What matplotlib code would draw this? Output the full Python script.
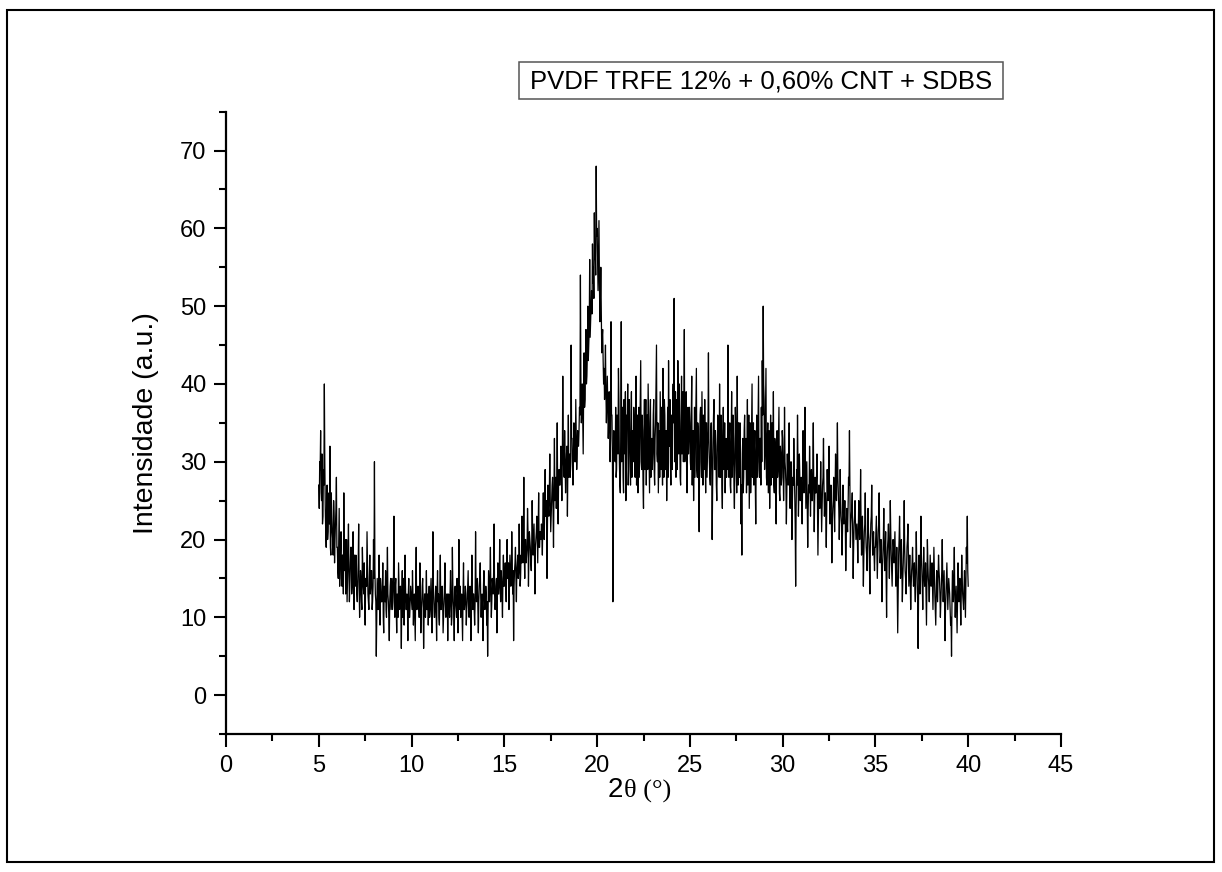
import numpy as np
import matplotlib
matplotlib.use("Agg")
import matplotlib.pyplot as plt
from matplotlib.ticker import MultipleLocator
from matplotlib.patches import Rectangle

# XRD scan: 2-theta from 5.000 to 40.000 deg in 0.025 deg steps
two_theta_start = 5.0
two_theta_step = 0.025

intensity = [
    # 5.0
    27, 24, 30, 29, 34, 26, 25, 31, 22, 23, 29, 27, 40, 30, 24, 21, 19, 25, 27, 20,
    21, 24, 26, 22, 32, 19, 18, 26, 23, 21, 20, 18, 25, 23, 17, 20, 22, 24, 28, 19,
    # 6.0
    19, 16, 15, 20, 24, 14, 17, 19, 21, 15, 14, 18, 18, 13, 26, 17, 16, 20, 13, 15,
    20, 12, 15, 18, 22, 16, 12, 14, 17, 19, 19, 13, 14, 17, 21, 15, 11, 18, 16, 14,
    # 7.0
    18, 15, 13, 12, 15, 17, 22, 14, 10, 13, 16, 15, 12, 11, 19, 16, 14, 13, 17, 12,
    9, 15, 15, 14, 21, 17, 13, 12, 11, 15, 18, 13, 14, 16, 16, 11, 12, 14, 20, 15,
    # 8.0
    30, 16, 13, 12, 5, 10, 15, 13, 11, 14, 18, 11, 9, 15, 14, 12, 12, 13, 17, 10,
    8, 14, 13, 12, 16, 11, 10, 15, 19, 13, 12, 10, 7, 12, 14, 15, 11, 13, 15, 11,
    # 9.0
    13, 15, 23, 12, 10, 14, 15, 11, 8, 13, 12, 10, 17, 14, 11, 12, 14, 11, 6, 13,
    16, 10, 12, 15, 9, 12, 18, 14, 11, 11, 13, 12, 7, 13, 15, 10, 10, 12, 14, 13,
    # 10.0
    12, 11, 16, 13, 9, 12, 13, 10, 7, 14, 19, 11, 11, 13, 14, 12, 10, 10, 17, 13,
    8, 11, 12, 14, 15, 12, 6, 10, 13, 13, 10, 12, 16, 11, 11, 13, 9, 12, 14, 10,
    # 11.0
    11, 13, 15, 11, 8, 12, 21, 14, 12, 10, 10, 12, 14, 11, 7, 13, 16, 12, 13, 10,
    9, 14, 18, 11, 11, 13, 14, 12, 8, 10, 12, 14, 17, 12, 10, 11, 13, 13, 7, 12,
    # 12.0
    13, 11, 10, 13, 16, 12, 9, 10, 19, 14, 12, 11, 7, 13, 14, 12, 11, 10, 15, 13,
    8, 12, 20, 11, 12, 14, 10, 12, 13, 10, 7, 13, 17, 11, 11, 12, 14, 13, 9, 11,
    # 13.0
    12, 14, 16, 12, 10, 13, 14, 11, 7, 12, 18, 14, 11, 13, 13, 11, 9, 12, 21, 14,
    12, 13, 15, 11, 8, 12, 14, 15, 17, 13, 10, 12, 13, 11, 7, 14, 16, 13, 11, 12,
    # 14.0
    14, 13, 9, 12, 5, 11, 16, 14, 12, 15, 19, 13, 10, 12, 15, 14, 13, 16, 22, 13,
    11, 12, 14, 15, 8, 14, 17, 13, 13, 15, 20, 14, 12, 16, 15, 13, 10, 15, 18, 14,
    # 15.0
    14, 15, 17, 14, 12, 16, 20, 15, 15, 17, 11, 14, 18, 16, 14, 15, 21, 17, 13, 16,
    7, 14, 16, 17, 19, 15, 12, 16, 17, 18, 15, 16, 22, 17, 14, 15, 18, 17, 23, 18,
    # 16.0
    17, 19, 28, 18, 15, 20, 20, 17, 18, 19, 24, 21, 14, 18, 21, 20, 19, 17, 16, 19,
    25, 21, 18, 20, 22, 18, 13, 19, 20, 21, 23, 20, 17, 22, 26, 19, 19, 21, 21, 20,
    # 17.0
    22, 21, 18, 23, 26, 22, 20, 24, 29, 23, 24, 25, 15, 22, 27, 24, 23, 26, 31, 25,
    21, 23, 25, 27, 28, 24, 19, 26, 33, 25, 26, 28, 24, 27, 35, 26, 22, 28, 29, 27,
    # 18.0
    27, 29, 32, 28, 25, 30, 41, 31, 29, 28, 34, 30, 26, 29, 31, 32, 23, 30, 36, 28,
    30, 31, 28, 30, 45, 33, 33, 29, 27, 31, 35, 32, 30, 30, 38, 33, 29, 31, 34, 32,
    # 19.0
    32, 34, 37, 36, 54, 41, 35, 37, 40, 35, 31, 39, 44, 37, 38, 42, 47, 40, 41, 44,
    50, 43, 45, 47, 56, 46, 48, 50, 52, 49, 58, 53, 55, 51, 62, 56, 57, 54, 68, 59,
    # 20.0
    60, 56, 52, 57, 61, 53, 48, 51, 55, 50, 44, 46, 47, 43, 40, 42, 38, 41, 45, 39,
    35, 38, 41, 37, 33, 35, 39, 34, 30, 33, 48, 36, 36, 31, 12, 29, 34, 33, 31, 30,
    # 21.0
    37, 28, 29, 36, 35, 31, 42, 38, 30, 27, 26, 34, 48, 30, 33, 37, 28, 26, 38, 33,
    31, 39, 25, 29, 36, 35, 40, 27, 29, 38, 34, 31, 27, 36, 39, 28, 32, 34, 30, 37,
    # 22.0
    35, 30, 28, 37, 41, 27, 31, 36, 26, 33, 37, 28, 33, 39, 43, 30, 29, 36, 34, 27,
    24, 34, 38, 29, 32, 38, 27, 33, 36, 29, 40, 35, 30, 26, 35, 38, 28, 32, 33, 29,
    # 23.0
    31, 36, 38, 29, 27, 33, 35, 40, 45, 31, 30, 35, 26, 30, 34, 28, 39, 34, 29, 37,
    33, 27, 42, 32, 28, 38, 36, 29, 31, 34, 25, 31, 37, 28, 43, 35, 32, 38, 30, 27,
    # 24.0
    36, 32, 29, 38, 40, 35, 51, 30, 33, 39, 28, 34, 38, 29, 43, 36, 31, 40, 35, 28,
    27, 35, 41, 31, 34, 39, 30, 36, 47, 30, 32, 38, 39, 28, 26, 35, 37, 31, 33, 37,
    # 25.0
    35, 30, 29, 36, 41, 27, 31, 34, 25, 31, 37, 28, 33, 38, 42, 29, 28, 35, 34, 26,
    21, 32, 36, 37, 30, 28, 39, 33, 27, 36, 33, 29, 38, 31, 26, 35, 35, 28, 31, 34,
    # 26.0
    44, 33, 30, 28, 27, 34, 35, 30, 20, 26, 33, 36, 38, 29, 29, 34, 32, 27, 25, 31,
    36, 35, 31, 28, 40, 30, 28, 36, 34, 27, 24, 33, 37, 29, 30, 35, 26, 31, 33, 28,
    # 27.0
    32, 29, 45, 35, 28, 33, 35, 27, 26, 32, 39, 28, 30, 36, 33, 27, 24, 31, 37, 34,
    29, 26, 41, 32, 27, 35, 31, 28, 35, 30, 22, 27, 18, 31, 33, 26, 28, 34, 36, 29,
    # 28.0
    30, 33, 26, 31, 38, 27, 33, 36, 24, 30, 35, 26, 29, 34, 40, 28, 31, 35, 27, 32,
    34, 27, 22, 31, 36, 28, 30, 35, 41, 29, 28, 33, 33, 27, 37, 30, 43, 36, 50, 40,
    # 29.0
    38, 29, 31, 36, 42, 28, 27, 33, 35, 26, 30, 34, 24, 31, 36, 27, 33, 35, 28, 30,
    39, 27, 26, 33, 32, 24, 22, 31, 34, 28, 29, 33, 37, 26, 25, 32, 31, 27, 28, 34,
    # 30.0
    33, 29, 25, 28, 37, 30, 29, 27, 22, 26, 31, 28, 27, 29, 35, 27, 24, 28, 30, 26,
    20, 25, 28, 27, 33, 29, 26, 22, 14, 24, 29, 27, 36, 29, 23, 26, 31, 28, 25, 27,
    # 31.0
    28, 26, 22, 27, 34, 28, 26, 29, 37, 30, 24, 27, 30, 25, 19, 24, 27, 26, 32, 28,
    23, 27, 29, 25, 25, 29, 35, 27, 21, 25, 28, 26, 26, 28, 31, 24, 18, 23, 27, 26,
    # 32.0
    24, 26, 30, 25, 21, 24, 27, 28, 33, 27, 23, 25, 26, 23, 19, 24, 29, 26, 25, 27,
    32, 26, 22, 24, 27, 23, 17, 22, 24, 25, 28, 24, 21, 26, 31, 27, 25, 29, 35, 28,
    # 33.0
    26, 24, 20, 23, 29, 25, 23, 22, 18, 21, 27, 24, 22, 23, 25, 22, 16, 20, 24, 22,
    21, 24, 28, 27, 34, 26, 19, 22, 23, 24, 26, 21, 15, 19, 22, 23, 25, 22, 20, 21,
    # 34.0
    22, 20, 17, 21, 25, 22, 20, 23, 29, 22, 18, 20, 23, 19, 14, 18, 21, 22, 26, 21,
    19, 18, 16, 20, 24, 21, 20, 17, 13, 19, 22, 23, 27, 21, 18, 20, 21, 18, 16, 19,
    # 35.0
    19, 21, 23, 19, 15, 18, 21, 22, 26, 20, 17, 18, 20, 17, 12, 16, 18, 20, 24, 19,
    16, 18, 21, 15, 10, 17, 19, 20, 22, 18, 15, 19, 25, 21, 18, 16, 14, 18, 20, 19,
    # 36.0
    17, 19, 21, 17, 14, 16, 19, 14, 8, 13, 18, 20, 23, 19, 15, 17, 20, 16, 12, 15,
    17, 20, 25, 19, 16, 15, 13, 16, 19, 20, 22, 18, 14, 16, 18, 15, 11, 14, 16, 17,
    # 37.0
    19, 16, 14, 15, 17, 14, 12, 16, 21, 17, 15, 12, 6, 13, 18, 15, 13, 17, 23, 18,
    16, 14, 11, 15, 19, 16, 14, 15, 17, 13, 9, 14, 20, 17, 15, 14, 12, 15, 18, 16,
    # 38.0
    14, 15, 17, 14, 11, 15, 19, 16, 13, 11, 9, 13, 16, 14, 12, 15, 18, 16, 15, 13,
    10, 12, 14, 16, 20, 15, 12, 14, 16, 12, 7, 11, 13, 15, 17, 14, 11, 13, 15, 14,
    # 39.0
    13, 11, 9, 10, 5, 12, 16, 14, 12, 15, 19, 13, 10, 12, 14, 11, 8, 13, 17, 15,
    12, 14, 15, 12, 9, 13, 18, 15, 13, 12, 11, 14, 16, 13, 10, 15, 19, 17, 23, 16,
    # 40.0
    14,
]

x_ticks = [0, 5, 10, 15, 20, 25, 30, 35, 40, 45]
y_ticks = [0, 10, 20, 30, 40, 50, 60, 70]
sample_label = "PVDF TRFE 12% + 0,60% CNT + SDBS"

two_theta = two_theta_start + two_theta_step * np.arange(len(intensity))

W, H = 1222, 872
fig = plt.figure(figsize=(W / 100, H / 100), dpi=100)
plt.rcParams["font.family"] = ["Liberation Sans", "DejaVu Sans"]

def fx(px):
    return px / W

def fy(py):
    return 1 - py / H

# plot area in pixel extents
left, right, top, bottom = 226, 1061, 111.7, 734
ax = fig.add_axes([fx(left), fy(bottom), fx(right - left), (bottom - top) / H])

ax.plot(two_theta, intensity, color="black", lw=0.9)

ax.set_xlim(0, 45)
ax.set_ylim(-5, 75)
ax.set_xticks(x_ticks)
ax.set_yticks(y_ticks)
ax.xaxis.set_minor_locator(MultipleLocator(2.5))
ax.yaxis.set_minor_locator(MultipleLocator(5))

for side in ("top", "right"):
    ax.spines[side].set_visible(False)
for side in ("left", "bottom"):
    ax.spines[side].set_linewidth(1.6)

ax.tick_params(which="major", direction="out", length=9, width=1.5,
               labelsize=17, pad=5, color="black")
ax.tick_params(which="minor", direction="out", length=5, width=1.5, color="black")
ax.tick_params(axis="x", which="major", pad=6)

# axis titles
fig.text(fx(146), fy(423), "Intensidade (a.u.)", rotation=90,
         ha="center", va="center", fontsize=20.5)
fig.text(fx(623), fy(797), "2", ha="right", va="baseline", fontsize=20)
fig.text(fx(624), fy(797), "θ (°)", ha="left", va="baseline", fontsize=19,
         family=["Liberation Serif", "DejaVu Serif"])

# sample label box
fig.patches.append(Rectangle((fx(519), fy(99)), fx(1003 - 519), (99 - 62) / H,
                             transform=fig.transFigure, fill=False,
                             edgecolor="#555555", lw=1.1))
fig.text(fx(761), fy(81), sample_label, ha="center", va="center", fontsize=18.5)

# outer frame
fig.patches.append(Rectangle((fx(7), fy(862)), fx(1214 - 7), (862 - 10) / H,
                             transform=fig.transFigure, fill=False,
                             edgecolor="black", lw=1.5))

fig.savefig("out.png", dpi=100, facecolor="white")
